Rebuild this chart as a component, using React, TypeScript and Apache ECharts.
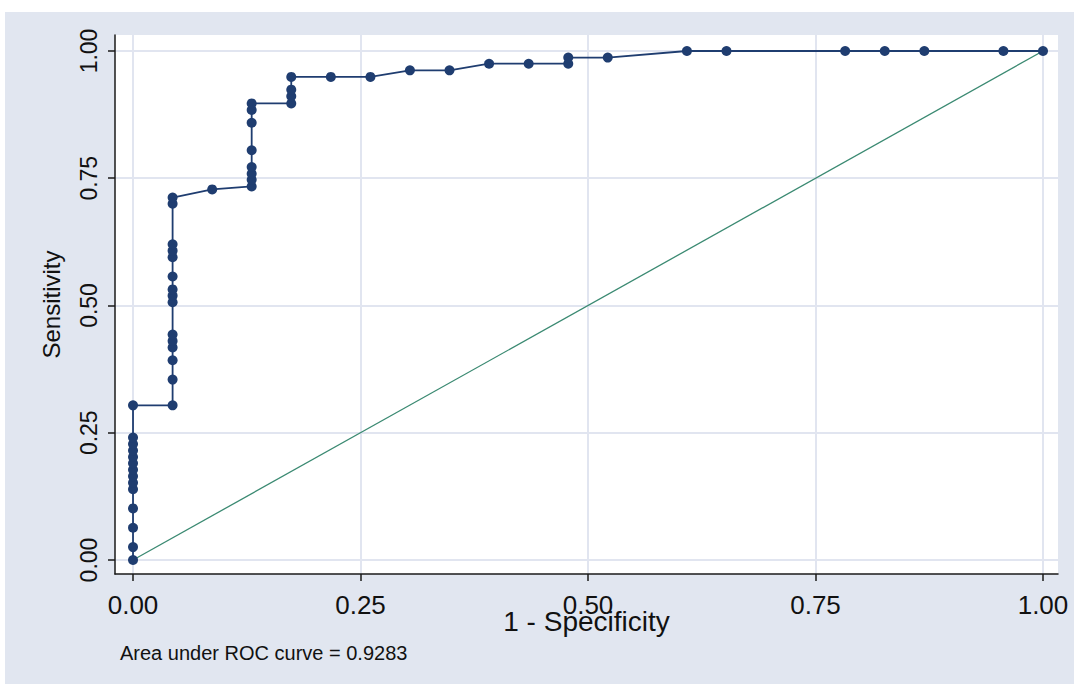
import React, { useEffect, useRef } from "react";
import * as echarts from "echarts";

// ROC curve points (1 - specificity, sensitivity)
const fpr = [
  0, 0, 0, 0, 0, 0, 0, 0, 0, 0, 0, 0, 0, 0,
  0.0435, 0.0435, 0.0435, 0.0435, 0.0435, 0.0435, 0.0435, 0.0435, 0.0435, 0.0435,
  0.0435, 0.0435, 0.0435, 0.0435, 0.0435,
  0.087,
  0.1304, 0.1304, 0.1304, 0.1304, 0.1304, 0.1304, 0.1304, 0.1304,
  0.1739, 0.1739, 0.1739, 0.1739,
  0.2174, 0.2609, 0.3043, 0.3478, 0.3913, 0.4348, 0.4783, 0.4783, 0.5217,
  0.6087, 0.6522, 0.7826, 0.8261, 0.8696, 0.9565, 1.0,
];
const tpr = [
  0, 0.0253, 0.0633, 0.1013, 0.1392, 0.1519, 0.1646, 0.1772, 0.19, 0.2025, 0.2152, 0.2278, 0.2405, 0.3038,
  0.3038, 0.3544, 0.3924, 0.4177, 0.4304, 0.443, 0.5063, 0.519, 0.5316, 0.557,
  0.5949, 0.6076, 0.6203, 0.7, 0.712,
  0.728,
  0.734, 0.747, 0.759, 0.772, 0.805, 0.859, 0.884, 0.897,
  0.897, 0.911, 0.924, 0.949,
  0.949, 0.949, 0.962, 0.962, 0.975, 0.975, 0.975, 0.987, 0.987,
  1.0, 1.0, 1.0, 1.0, 1.0, 1.0, 1.0,
];
const diagonal = [
  [0, 0],
  [1, 1],
];
const tickValues = [0, 0.25, 0.5, 0.75, 1];
const tickLabels = ["0.00", "0.25", "0.50", "0.75", "1.00"];
const xTitle = "1 - Specificity";
const yTitle = "Sensitivity";
const aucNote = "Area under ROC curve = 0.9283";

const FONT = "'Liberation Sans', Arial, sans-serif";
const NAVY = "#1f3d70";
const GREEN = "#3b8a72";
const AXIS = "#1a1a1a";
const GRID = "#e1e5f0";
const OUTER = "#e1e6f0";

function fmt(v: number): string {
  const i = tickValues.findIndex((t) => Math.abs(t - v) < 1e-6);
  return i >= 0 ? tickLabels[i] : "";
}

export default function App() {
  const ref = useRef<HTMLDivElement>(null);
  useEffect(() => {
    if (!ref.current) return;
    const chart = echarts.init(ref.current, undefined, { renderer: "svg" });
    const option: any = {
      animation: false,
      backgroundColor: "#ffffff",
      textStyle: { fontFamily: FONT },
      graphic: [
        {
          type: "rect",
          left: 5,
          top: 12,
          z: -10,
          silent: true,
          shape: { width: 1069, height: 672 },
          style: { fill: OUTER },
        },
        {
          type: "text",
          left: 120,
          top: 643,
          style: { text: aucNote, fontSize: 20, fill: "#111", fontFamily: FONT },
        },
      ],
      grid: {
        left: 115,
        right: 16,
        top: 35,
        bottom: 110,
        show: true,
        backgroundColor: "#ffffff",
        borderWidth: 0,
      },
      xAxis: {
        type: "value",
        min: -0.0198,
        max: 1.0165,
        name: xTitle,
        nameLocation: "middle",
        nameGap: 33,
        nameMoveOverlap: false,
        nameTextStyle: { fontSize: 28, color: "#111", fontFamily: FONT },
        axisLine: { show: true, onZero: false, lineStyle: { color: AXIS, width: 1.5 } },
        axisTick: {
          show: true,
          customValues: tickValues,
          length: 7,
          lineStyle: { color: AXIS, width: 1.5 },
        },
        axisLabel: {
          customValues: tickValues,
          formatter: fmt,
          margin: 18,
          fontSize: 26,
          color: "#111",
          fontFamily: FONT,
        },
        splitLine: { show: true, lineStyle: { color: GRID, width: 2 } },
      },
      yAxis: {
        type: "value",
        min: -0.0275,
        max: 1.0314,
        name: yTitle,
        nameLocation: "middle",
        nameGap: 52,
        nameRotate: 90,
        nameMoveOverlap: false,
        nameTextStyle: { fontSize: 24, color: "#111", fontFamily: FONT },
        axisLine: { show: true, onZero: false, lineStyle: { color: AXIS, width: 1.5 } },
        axisTick: {
          show: true,
          customValues: tickValues,
          length: 7,
          lineStyle: { color: AXIS, width: 1.5 },
        },
        axisLabel: {
          customValues: tickValues,
          formatter: fmt,
          rotate: 90,
          margin: 15,
          fontSize: 23,
          color: "#111",
          fontFamily: FONT,
        },
        splitLine: { show: true, lineStyle: { color: GRID, width: 2 } },
      },
      series: [
        {
          type: "line",
          data: diagonal,
          showSymbol: false,
          lineStyle: { color: GREEN, width: 1.3 },
          z: 2,
          silent: true,
        },
        {
          type: "line",
          data: fpr.map((x, i) => [x, tpr[i]]),
          symbol: "circle",
          symbolSize: 10,
          showAllSymbol: true,
          itemStyle: { color: NAVY },
          lineStyle: { color: NAVY, width: 1.8 },
          z: 3,
        },
      ],
    };
    chart.setOption(option);
    return () => chart.dispose();
  }, []);
  return (
    <div
      ref={ref}
      style={{ position: "absolute", left: 0, top: 0, width: 1074, height: 684 }}
    />
  );
}
